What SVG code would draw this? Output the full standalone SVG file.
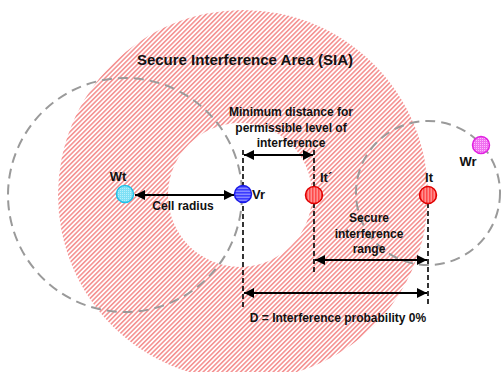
<svg xmlns="http://www.w3.org/2000/svg" width="501" height="372" viewBox="0 0 501 372">
<defs>
<pattern id="sia" patternUnits="userSpaceOnUse" width="3.3" height="3.3" patternTransform="rotate(45)">
<rect width="3.3" height="3.3" fill="#ffffff"/>
<line x1="0.8" y1="0" x2="0.8" y2="3.3" stroke="#f27a7a" stroke-width="1.3"/>
</pattern>
<pattern id="redHatch" patternUnits="userSpaceOnUse" width="3" height="3">
<rect width="3" height="3" fill="#ff4a4a"/>
<line x1="2.2" y1="0" x2="2.2" y2="3" stroke="#ffb0b0" stroke-width="1"/>
</pattern>
<pattern id="blueHatch" patternUnits="userSpaceOnUse" width="3" height="3">
<rect width="3" height="3" fill="#3a3aff"/>
<line x1="0" y1="2.2" x2="3" y2="2.2" stroke="#a8a8ff" stroke-width="1"/>
</pattern>
<pattern id="cyanDot" patternUnits="userSpaceOnUse" width="2" height="2">
<rect width="2" height="2" fill="#7fe0f5"/>
<rect width="1" height="1" fill="#b8f0fb"/>
</pattern>
<pattern id="magDot" patternUnits="userSpaceOnUse" width="2" height="2">
<rect width="2" height="2" fill="#f070f0"/>
<rect width="1" height="1" fill="#ffb8ff"/>
</pattern>
<marker id="ah" viewBox="0 0 10 10" refX="10" refY="5" markerWidth="6" markerHeight="5" orient="auto-start-reverse" markerUnits="strokeWidth">
<path d="M0,0 L10,5 L0,10 Z" fill="#000"/>
</marker>
</defs>
<style>
.lbl{font-family:"Liberation Sans",Arial,sans-serif;font-weight:bold;font-size:12px;fill:#111;}
.ttl{font-family:"Liberation Sans",Arial,sans-serif;font-weight:bold;font-size:15px;fill:#111;}
.cell{fill:none;stroke:#9a9a9a;stroke-width:2;stroke-dasharray:10 6;}
.vdash{stroke:#000;stroke-width:1.6;stroke-dasharray:5 3;fill:none;}
.arr{stroke:#000;stroke-width:2;fill:none;marker-start:url(#ah);marker-end:url(#ah);}
</style>

<g id="sia-area">
<path d="M58,195 a185,185 0 1,0 370,0 a185,185 0 1,0 -370,0 Z M168,195 a72,72 0 1,0 144,0 a72,72 0 1,0 -144,0 Z" fill="url(#sia)" fill-rule="evenodd"/>
<text class="ttl" x="245" y="65" text-anchor="middle">Secure Interference Area (SIA)</text>
</g>

<g id="cells">
<circle class="cell" cx="125" cy="195" r="117"/>
<circle class="cell" cx="428" cy="193" r="72"/>
</g>

<g id="connectors">
<line class="vdash" x1="243" y1="150" x2="243" y2="307"/>
<line class="vdash" x1="314" y1="150" x2="314" y2="187"/>
<line class="vdash" x1="314" y1="203" x2="314" y2="272"/>
<line class="vdash" x1="428" y1="203" x2="428" y2="307"/>
<line class="arr" x1="135" y1="195" x2="234" y2="195"/>
<line class="arr" x1="244" y1="155" x2="313" y2="155"/>
<line class="arr" x1="315" y1="260" x2="427" y2="260"/>
<line class="arr" x1="244" y1="293" x2="427" y2="293"/>
</g>

<g id="labels">
<text class="lbl" x="291" y="116" text-anchor="middle">Minimum distance for</text>
<text class="lbl" x="291" y="132" text-anchor="middle">permissible level of</text>
<text class="lbl" x="291" y="147" text-anchor="middle">interference</text>
<text class="lbl" x="183" y="210" text-anchor="middle">Cell radius</text>
<text class="lbl" x="369" y="222" text-anchor="middle">Secure</text>
<text class="lbl" x="369" y="238" text-anchor="middle">interference</text>
<text class="lbl" x="369" y="253" text-anchor="middle">range</text>
<text class="lbl" x="338" y="322" text-anchor="middle">D = Interference probability 0%</text>
</g>

<g id="node-Wt">
<circle cx="125" cy="194" r="8.5" fill="url(#cyanDot)" stroke="#20c0e8" stroke-width="1.5"/>
<text class="lbl" x="118" y="181" text-anchor="middle" style="font-size:13px">Wt</text>
</g>
<g id="node-Vr">
<circle cx="243" cy="194" r="8.5" fill="url(#blueHatch)" stroke="#1a1ae6" stroke-width="1.5"/>
<text class="lbl" x="252" y="199" style="font-size:13px">Vr</text>
</g>
<g id="node-It-prime">
<circle cx="314" cy="195" r="8.5" fill="url(#redHatch)" stroke="#e00000" stroke-width="1.5"/>
<text class="lbl" x="320" y="182" style="font-size:13px">It´</text>
</g>
<g id="node-It">
<circle cx="428" cy="195" r="8.5" fill="url(#redHatch)" stroke="#e00000" stroke-width="1.5"/>
<text class="lbl" x="429" y="182" text-anchor="middle" style="font-size:13px">It</text>
</g>
<g id="node-Wr">
<circle cx="481" cy="145" r="8.5" fill="url(#magDot)" stroke="#e020e0" stroke-width="1.5"/>
<text class="lbl" x="468" y="166" text-anchor="middle" style="font-size:13px">Wr</text>
</g>
</svg>
